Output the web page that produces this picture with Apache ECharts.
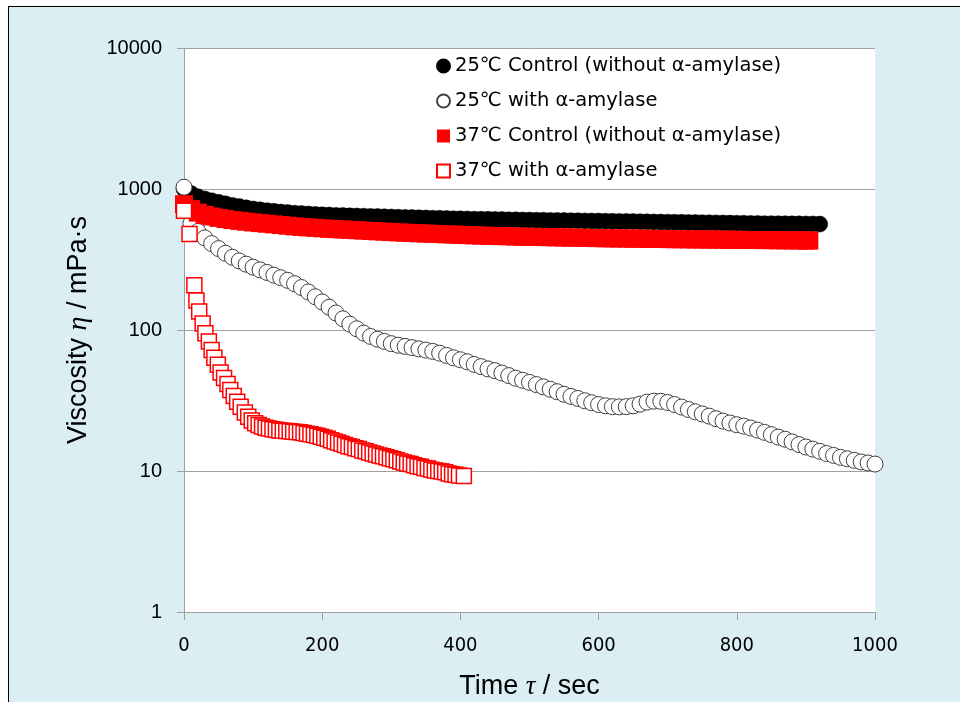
<!DOCTYPE html>
<html>
<head>
<meta charset="utf-8">
<script src="https://cdn.jsdelivr.net/npm/echarts@6/dist/echarts.min.js"></script>
<style>
html,body{margin:0;padding:0;background:#fff;width:960px;height:702px;overflow:hidden;}
#frame{position:absolute;left:8px;top:6px;width:980px;height:740px;background:#DAEEF3;border:1.5px solid #000;box-sizing:border-box;}
#chart{position:absolute;left:0;top:0;width:960px;height:702px;}
</style>
</head>
<body>
<div id="frame"></div>
<div id="chart"></div>
<script>
// Series names
const seriesNames = [
  '25\u2103 Control (without \u03b1-amylase)',
  '25\u2103 with \u03b1-amylase',
  '37\u2103 Control (without \u03b1-amylase)',
  '37\u2103 with \u03b1-amylase'
];

// 25°C control: [time (s), viscosity (mPa·s)]
const ctrl25 = [
  [0,1000],[10,930],[20,880],[30,850],[40,825],[50,805],[60,785],[70,765],[80,750],[90,735],
  [100,722],[110,712],[120,702],[130,694],[140,686],[150,680],[160,674],[170,669],[180,664],[190,660],
  [200,656],[210,653],[220,650],[230,648],[240,645],[250,643],[260,641],[270,639],[280,637],[290,635],
  [300,633],[310,631],[320,629],[330,627],[340,625],[350,623],[360,621],[370,619],[380,617],[390,615],
  [400,614],[410,613],[420,611],[430,610],[440,609],[450,608],[460,607],[470,605],[480,604],[490,603],
  [500,602],[510,601],[520,600],[530,599],[540,598],[550,597],[560,596],[570,595],[580,594],[590,593],
  [600,592],[610,591],[620,590],[630,589],[640,588],[650,587],[660,586],[670,585],[680,584],[690,583],
  [700,582],[710,581],[720,580],[730,579],[740,578],[750,577],[760,576],[770,575],[780,574],[790,573],
  [800,572],[810,571],[820,570],[830,569],[840,568],[850,568],[860,567],[870,567],[880,566],[890,566],
  [900,565],[910,565],[920,564]
];

// 25°C with alpha-amylase
const amyl25 = [
  [0,1030],[10,570],[20,500],[30,450],[40,410],[50,378],[60,350],[70,328],[80,309],[90,293],
  [100,279],[110,267],[120,256],[130,245],[140,235],[150,225],[160,213],[170,200],[180,186],[190,172],
  [200,158],[210,145],[220,132],[230,120],[240,110],[250,102],[260,95],[270,90],[280,86],[290,83],
  [300,80],[310,78],[320,76.5],[330,75],[340,73.5],[350,72],[360,70.5],[370,68.5],[380,66],[390,63.5],
  [400,61.5],[410,59.5],[420,57],[430,55],[440,53],[450,51.5],[460,49.5],[470,47.5],[480,45.5],[490,44],
  [500,42.5],[510,41],[520,39.5],[530,38],[540,36.5],[550,35],[560,33.8],[570,32.7],[580,31.5],[590,30.5],
  [600,29.6],[610,29],[620,28.6],[630,28.5],[640,28.6],[650,29],[660,29.8],[670,30.8],[680,31.3],[690,31.2],
  [700,30.6],[710,29.6],[720,28.4],[730,27.3],[740,26.3],[750,25.4],[760,24.5],[770,23.5],[780,22.6],[790,21.9],
  [800,21.3],[810,20.8],[820,20.2],[830,19.5],[840,18.8],[850,18.1],[860,17.4],[870,16.8],[880,16.1],[890,15.4],
  [900,14.8],[910,14.3],[920,13.8],[930,13.3],[940,12.9],[950,12.5],[960,12.2],[970,11.9],[980,11.6],[990,11.4],
  [1000,11.2]
];

// 37°C control
const ctrl37 = [
  [0,780],[10,720],[20,680],[30,655],[40,638],[50,624],[60,612],[70,602],[80,594],[90,586],
  [100,579],[110,573],[120,567],[130,561],[140,555],[150,549],[160,543],[170,538],[180,534],[190,530],
  [200,526],[210,522],[220,519],[230,516],[240,513],[250,510],[260,507],[270,504],[280,501],[290,498],
  [300,495],[310,492],[320,490],[330,487],[340,485],[350,483],[360,481],[370,479],[380,477],[390,475],
  [400,473],[410,471],[420,469],[430,467],[440,466],[450,464],[460,463],[470,462],[480,460],[490,459],
  [500,458],[510,457],[520,456],[530,455],[540,454],[550,453],[560,452],[570,451],[580,450],[590,449],
  [600,448],[610,447],[620,446.5],[630,446],[640,445],[650,444.5],[660,444],[670,443],[680,442.5],[690,442],
  [700,441],[710,440.5],[720,440],[730,439.5],[740,439],[750,438.5],[760,438],[770,437.5],[780,437],[790,436.5],
  [800,436],[810,435.5],[820,435],[830,434.5],[840,434],[850,433.5],[860,433],[870,432.5],[880,432],[890,431.5],
  [900,431],[905,431]
];

// 37°C with alpha-amylase
const amyl37 = [
  [0,702],[8,480],[15,208],[18,162],[22,135],[27,111],[31,95],[36,83],[40,72],[44,63.5],
  [49,56.7],[53,50],[58,45.7],[63,41.4],[67,37.5],[72,34],[77,31],[82,28.5],[88,26],[93,24.3],
  [98,22.8],[103,21.8],[108,21.2],[113,20.7],[118,20.3],[123,20],[128,19.8],[133,19.6],[138,19.4],[143,19.3],
  [148,19.2],[153,19.1],[158,19],[163,18.9],[168,18.8],[173,18.6],[178,18.4],[183,18.2],[188,18],[193,17.8],
  [198,17.5],[203,17.2],[208,16.9],[213,16.5],[218,16.2],[223,15.9],[228,15.6],[233,15.3],[238,15],[243,14.8],
  [248,14.5],[253,14.3],[258,14],[263,13.8],[268,13.5],[273,13.3],[278,13.1],[283,12.9],[288,12.7],[293,12.5],
  [298,12.3],[303,12.1],[308,11.9],[313,11.7],[318,11.5],[323,11.3],[328,11.2],[333,11],[338,10.8],[343,10.7],
  [348,10.5],[353,10.4],[358,10.2],[363,10.1],[368,10],[373,9.9],[378,9.8],[383,9.6],[388,9.5],[393,9.4],
  [398,9.3],[405,9.2]
];

const chart = echarts.init(document.getElementById('chart'), null, {renderer:'canvas'});
const gridColor = '#A0A0A0';
chart.setOption({
  backgroundColor: 'transparent',
  animation: false,
  grid: {left:184, right:85, top:48, bottom:90, show:true, backgroundColor:'#ffffff', borderWidth:0,
         containLabel:false, outerBoundsMode:'none'},
  legend: {
    orient:'vertical', left:431, top:51, itemWidth:13, itemHeight:13, itemGap:15,
    data: seriesNames,
    textStyle:{fontFamily:'DejaVu Sans', fontSize:19.5, color:'#000', lineHeight:20}
  },
  xAxis: {
    type:'value', min:0, max:1000, interval:200,
    name:'Time {i|\u03c4} / sec', nameLocation:'middle', nameGap:61,
    nameTextStyle:{fontFamily:'Liberation Sans', fontSize:27, color:'#000',
      rich:{i:{fontFamily:'Liberation Serif', fontStyle:'italic', fontSize:27, color:'#000'}}},
    axisLine:{show:true, lineStyle:{color:gridColor, width:1}},
    axisTick:{show:true, inside:false, length:8, lineStyle:{color:gridColor}},
    axisLabel:{margin:24, fontFamily:"'Liberation Sans Narrow','DejaVu Sans Condensed','Liberation Sans'", fontSize:20, color:'#000',
      formatter: v => String(v)},
    splitLine:{show:false}
  },
  yAxis: {
    type:'log', logBase:10, min:1, max:10000,
    name:'Viscosity {i|\u03b7} / mPa\u00b7s', nameLocation:'middle', nameGap:91, nameRotate:90,
    nameTextStyle:{fontFamily:'Liberation Sans', fontSize:27, color:'#000',
      rich:{i:{fontFamily:'Liberation Serif', fontStyle:'italic', fontSize:28, color:'#000'}}},
    axisLine:{show:true, lineStyle:{color:gridColor, width:1}},
    axisTick:{show:true, inside:false, length:7, lineStyle:{color:gridColor}},
    axisLabel:{margin:22, fontFamily:'Liberation Sans', fontSize:20, color:'#000',
      formatter: v => String(Math.round(v))},
    splitLine:{show:true, lineStyle:{color:gridColor, width:1}},
    minorTick:{show:false}
  },
  series: [
    {name:seriesNames[0], type:'scatter', data:ctrl25, symbol:'circle', symbolSize:16,
     itemStyle:{color:'#000000', borderColor:'#000000', borderWidth:0.5, opacity:1}},
    {name:seriesNames[1], type:'scatter', data:amyl25, symbol:'circle', symbolSize:16,
     itemStyle:{color:'#ffffff', borderColor:'#404040', borderWidth:1, opacity:1}},
    {name:seriesNames[2], type:'scatter', data:ctrl37, symbol:'rect', symbolSize:18,
     itemStyle:{color:'#ff0000', opacity:1}},
    {name:seriesNames[3], type:'scatter', data:amyl37, symbol:'rect', symbolSize:15,
     itemStyle:{color:'#ffffff', borderColor:'#ff0000', borderWidth:1.5, opacity:1}}
  ]
});
</script>
</body>
</html>
